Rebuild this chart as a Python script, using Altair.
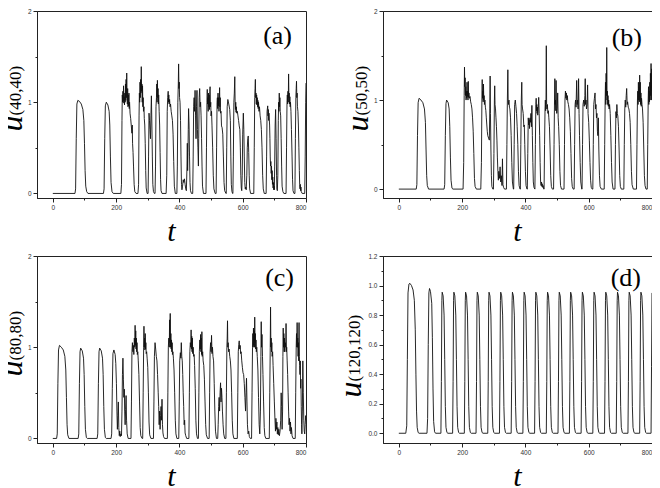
import altair as alt
import pandas as pd

# ---------------- data ----------------
X_TICKS = [0, 100, 200, 300, 400, 500, 600, 700, 800]
Y_TICKS_ABC = [0, 0.5, 1, 1.5, 2]
Y_TICKS_D = [0, 0.1, 0.2, 0.3, 0.4, 0.5, 0.6, 0.7, 0.8, 0.9, 1.0, 1.1, 1.2]

series_a = [
    (0, 0), (70, 0), (72, 0.05), (74, 0.6), (76, 0.98), (79, 1.02), (84, 1.01), (90, 0.98), (95, 0.92), (98, 0.8),
    (100, 0.55), (102, 0.25), (104, 0.08), (107, 0.02), (111, 0),
    (160, 0), (162, 0.05), (164, 0.6), (166, 0.96), (169, 1.0), (174, 0.97), (178, 0.9), (180, 0.75), (182, 0.4),
    (184, 0.12), (187, 0.02), (191, 0),
    (215, 0), (217, 0.1), (218.5, 0.8), (219.5, 1.08), (220.5, 1.0), (221.5, 1.12), (222.5, 1.01), (223.5, 1.18),
    (224.5, 0.99), (225.5, 1.06), (226.5, 0.97), (227.5, 1.1), (228.5, 1.0), (229.5, 1.2), (230.5, 1.02),
    (231.5, 1.25), (232.5, 1.05), (233.5, 1.32), (234.5, 1.08), (235.5, 0.98), (236.5, 1.15), (237.5, 0.95),
    (238.5, 1.08), (239.5, 0.96), (240.5, 1.1), (241.5, 0.93), (242.5, 1.0), (244, 0.88), (246, 0.82), (248, 0.74),
    (250, 0.66), (251, 0.75), (252, 0.55), (253.5, 0.45), (255, 0.3), (257, 0.1), (259, 0.02), (263, 0),
    (269, 0), (271, 0.1), (272.5, 0.85), (273.5, 1.1), (274.5, 1.0), (275.5, 1.22), (276.5, 1.05), (277.5, 1.25),
    (278.5, 1.1), (279.5, 1.39), (280.5, 1.12), (281.5, 1.2), (282.5, 1.0), (283.5, 1.18), (284.5, 0.95),
    (285.5, 1.05), (286.5, 0.9), (288, 0.95), (289, 0.82), (290.5, 0.75), (292, 0.55), (293.5, 0.25), (295, 0.06),
    (298, 0),
    (301, 0), (302.5, 0.4), (304, 0.88), (305.5, 0.8), (307, 0.7), (308.5, 0.6), (310, 0.85), (311.5, 1.07),
    (313, 0.75), (314.5, 0.4), (316, 0.1), (318, 0.02), (321, 0),
    (323, 0), (324.5, 0.3), (326, 0.95), (327.5, 1.05), (328.5, 1.2), (329.5, 1.0), (330.5, 1.24), (331.5, 1.05),
    (332.5, 1.15), (333.5, 0.98), (334.5, 1.08), (336, 0.9), (337.5, 0.75), (339, 0.45), (340.5, 0.15),
    (342, 0.03), (345, 0),
    (358, 0), (360, 0.2), (361.5, 0.9), (363, 1.05), (364.5, 1.12), (365.5, 1.0), (366.5, 1.08), (367.5, 0.98),
    (369, 1.03), (370.5, 0.95), (372, 0.98), (374, 0.9), (376, 0.85), (378, 0.8), (380, 0.65), (382, 0.35),
    (384, 0.08), (387, 0),
    (392, 0), (393.5, 0.3), (395, 1.0), (396.5, 1.2), (397.5, 1.42), (398.5, 1.15), (399.5, 1.22), (400.5, 1.05),
    (402, 1.0), (403.5, 0.8), (405, 0.4), (406.5, 0.1), (408, 0.04), (410, 0.08), (412, 0.15), (414, 0.12),
    (416, 0.16), (418, 0.1), (420, 0.05), (422, 0.03),
    (424, 0.3), (425, 0.55), (426, 0.25), (427, 0.45), (428, 0.7), (429, 0.93), (430.5, 0.75), (432, 0.4),
    (433.5, 0.12), (435, 0.03), (438, 0),
    (442, 0), (443.5, 0.4), (445, 0.95), (446.5, 1.05), (448, 0.9), (449.5, 1.13), (451, 0.85), (452.5, 0.6),
    (454, 0.95), (455.5, 1.13), (457, 0.7), (458.5, 0.5), (460, 0.3), (461, 0.6), (462.5, 1.05), (464, 1.15),
    (465.5, 0.95), (467, 1.0), (468.5, 0.85), (470, 0.6), (471.5, 0.3), (473, 0.08), (476, 0),
    (484, 0), (485.5, 0.5), (487, 1.0), (488, 1.14), (489, 0.98), (490, 1.05), (491, 0.9), (492, 1.1), (493, 0.95),
    (494, 1.08), (495, 0.92), (496, 1.12), (497, 1.17), (498, 0.95), (499, 1.0), (500, 0.85), (501.5, 0.9),
    (503, 0.74), (505, 0.5), (507, 0.2), (509, 0.05), (513, 0),
    (516, 0), (517.5, 0.5), (519, 1.0), (520, 1.05), (521, 0.93), (522, 1.1), (523, 0.96), (524, 1.05), (525, 0.9),
    (526, 1.0), (527, 1.16), (528, 0.95), (529, 1.05), (530, 0.88), (531.5, 0.9), (533, 0.74), (535, 0.72),
    (537, 0.65), (539, 0.4), (541, 0.12), (543, 0.03), (547, 0),
    (548, 0), (549.5, 0.5), (551, 0.95), (553, 1.03), (556, 0.98), (559, 0.92), (561, 0.8), (562.5, 0.4),
    (564, 0.1), (566, 0.02), (568, 0),
    (569, 0), (570.5, 0.4), (572, 1.0), (573.5, 1.1), (575, 1.28), (576, 1.0), (577, 0.92), (578, 1.0), (579, 0.89),
    (580, 0.95), (581, 0.88), (583, 0.9), (585, 0.85), (587, 0.8), (589, 0.74), (591, 0.7), (592.5, 0.5),
    (594, 0.2), (595.5, 0.06), (597, 0.03),
    (598.5, 0.2), (600, 0.65), (602, 0.88), (603.5, 0.7), (605, 0.4), (606.5, 0.12), (608, 0.05), (610, 0.07),
    (611, 0.04),
    (613, 0.2), (614.5, 0.5), (616, 0.6), (617.5, 0.63), (619, 0.45), (620.5, 0.2), (622, 0.05), (625, 0),
    (635, 0), (636.5, 0.5), (638, 1.05), (639, 1.15), (640, 1.25), (641, 1.05), (642, 1.1), (643, 0.98),
    (644, 1.08), (645, 0.97), (646, 1.05), (647, 0.95), (648, 1.02), (649, 0.93), (650, 1.0), (651.5, 0.9),
    (653, 0.95), (655, 0.85), (657, 0.8), (659, 0.7), (661, 0.5), (663, 0.2), (665, 0.05), (668, 0),
    (674, 0), (675.5, 0.4), (677, 0.9), (679, 0.96), (680, 0.85), (681, 0.92), (682, 0.8), (683, 0.88), (685, 0.75),
    (686, 0.6), (687, 0.4), (688, 0.3), (689, 0.35), (690, 0.22), (691, 0.3), (692, 0.15), (693, 0.25), (694, 0.1),
    (695, 0.18), (696, 0.06), (697, 0.12), (698, 0.04), (699, 0.08), (700, 0.04), (701, 0.3), (702.5, 0.75),
    (704, 0.92), (705.5, 0.6), (707, 0.2), (708, 0.05), (709.5, 0.03),
    (711, 0.2), (712.5, 0.8), (713.5, 1.0), (714.5, 0.9), (715.5, 1.1), (716.5, 0.95), (717.5, 1.05), (718.5, 0.9),
    (720, 0.85), (721.5, 0.6), (723, 0.3), (724.5, 0.08), (727, 0.02), (730, 0),
    (737, 0), (738.5, 0.5), (740, 1.0), (741, 1.08), (742, 0.98), (743, 1.12), (744, 1.0), (745, 1.31),
    (746, 1.05), (747, 1.1), (748, 0.98), (749, 1.06), (750, 0.95), (751, 1.0), (752.5, 0.9), (754, 0.7),
    (756, 0.4), (757.5, 0.15), (759, 0.03), (762, 0),
    (765, 0), (766.5, 0.6), (768, 1.05), (769, 1.15), (770, 1.23), (771, 1.05), (772, 1.1), (773, 0.95),
    (774.5, 0.9), (776, 0.75), (777.5, 0.5), (779, 0.25), (780, 0.1), (781, 0.05), (782, 0.1), (783, 0.03),
    (784, 0.07), (785, 0.02), (788, 0), (796, 0), (797.5, 0.4), (799, 1.0), (800, 1.21),
]

series_b = [
    (0, 0), (55, 0), (57, 0.05), (59, 0.6), (61, 0.97), (64, 1.02), (70, 1.0), (76, 0.97), (81, 0.9), (84, 0.75),
    (86, 0.45), (88, 0.15), (90, 0.04), (94, 0),
    (143, 0), (145, 0.05), (147, 0.6), (149, 0.96), (151, 1.0), (156, 0.97), (159, 0.9), (161, 0.7), (163, 0.35),
    (165, 0.1), (168, 0.01), (171, 0),
    (203, 0), (205, 0.3), (206.5, 1.05), (207.5, 1.37), (208.5, 1.15), (209.5, 1.25), (210.5, 1.05), (211.5, 1.15),
    (212.5, 1.0), (213.5, 1.1), (214.5, 1.02), (215.5, 1.2), (216.5, 1.04), (217.5, 1.1), (218.5, 1.0),
    (219.5, 1.21), (220.5, 1.03), (221.5, 1.08), (223, 1.02), (225, 1.04), (227, 0.98), (229, 0.95), (231, 0.9),
    (233, 0.8), (235, 0.65), (237, 0.4), (239, 0.12), (241, 0.03), (245, 0),
    (259, 0), (261, 0.3), (262.5, 1.0), (263.5, 1.23), (264.5, 1.02), (265.5, 1.1), (266.5, 0.98), (267.5, 1.18),
    (268.5, 1.0), (269.5, 1.05), (270.5, 0.95), (272, 1.0), (273.5, 0.92), (275, 0.88), (276.5, 0.8), (278, 0.72),
    (279.5, 0.65), (281, 0.6), (286, 0.55), (287.5, 0.9), (288.5, 1.27), (289.5, 0.85), (291, 0.45), (292.5, 0.15),
    (294, 0.03), (297, 0),
    (299, 0), (300.5, 0.4), (302, 1.0), (303, 1.16), (304, 0.95), (305.5, 0.9), (307, 0.8), (308.5, 0.7),
    (310, 0.55), (311.5, 0.35), (313, 0.2), (314.5, 0.1), (316, 0.2), (318, 0.12), (320, 0.25), (322, 0.08),
    (324, 0.15), (326, 0.04), (327.5, 0.34), (329, 0.05), (331, 0.02), (334, 0),
    (340, 0), (341.5, 0.5), (343, 1.0), (344.5, 1.34), (345.5, 1.0), (346.5, 0.95), (348, 1.0), (349.5, 0.92),
    (351, 0.9), (353, 0.8), (355, 0.6), (357, 0.3), (359, 0.08), (362, 0),
    (363, 0), (364.5, 0.5), (366, 0.95), (368, 1.0), (370, 0.93), (372, 0.85), (374, 0.7), (376, 0.5), (378, 0.2),
    (380, 0.04), (383, 0),
    (384, 0), (385.5, 0.5), (387, 1.0), (388.5, 1.2), (389.5, 0.95), (391, 0.9), (393, 0.85), (395, 0.7),
    (396.5, 0.72), (398, 0.5), (400, 0.2), (402, 0.04), (405, 0),
    (406, 0), (407.5, 0.4), (409, 0.8), (410.5, 0.72), (412, 0.78), (413, 0.68), (414.5, 0.8), (416, 0.75),
    (417.5, 0.85), (419, 0.7), (420.5, 0.94), (422, 0.6), (423.5, 0.3), (425, 0.08), (427, 0.02), (430, 0),
    (431.5, 0.5), (433, 0.95), (434, 1.02), (435, 0.88), (436, 0.95), (437, 0.85), (438, 0.92), (439, 0.83),
    (440.5, 0.9), (442, 1.03), (443.5, 0.85), (445, 0.6), (446.5, 0.3), (448, 0.08), (449.5, 0.04), (451, 0.08),
    (452, 0.03), (453, 0.06), (454, 0.02), (456, 0.04), (458, 0),
    (459, 0), (460.5, 0.5), (462, 0.9), (463, 1.0), (464, 0.88), (465, 0.95), (466, 1.61), (467, 0.95), (468, 0.9),
    (469.5, 0.95), (471, 0.85), (472.5, 0.88), (474, 0.8), (476, 0.7), (478, 0.45), (480, 0.15), (482, 0.03),
    (485, 0),
    (489, 0), (490.5, 0.5), (492, 1.0), (493, 1.24), (494, 0.95), (495, 1.0), (496, 0.88), (497, 1.22), (498, 0.9),
    (499, 0.85), (500.5, 0.9), (502, 1.08), (503.5, 0.8), (505, 0.7), (507, 0.5), (509, 0.2), (511, 0.04), (514, 0),
    (522, 0), (523.5, 0.5), (525, 1.0), (526.5, 1.1), (528, 1.02), (529.5, 1.08), (531, 1.0), (532.5, 1.05),
    (534, 0.98), (536, 0.95), (538, 0.9), (540, 0.8), (542, 0.65), (544, 0.4), (546, 0.12), (548, 0.03), (551, 0),
    (554, 0), (555.5, 0.5), (557, 0.95), (558.5, 1.0), (560, 0.92), (562, 1.22), (563.5, 0.95), (565, 1.0),
    (566.5, 0.9), (568, 1.24), (569.5, 0.85), (571, 0.6), (573, 0.3), (575, 0.08), (578, 0),
    (579, 0), (580.5, 0.5), (582, 0.95), (584, 1.0), (586, 0.93), (588, 1.05), (589, 1.24), (590, 0.95),
    (591.5, 1.0), (593, 0.9), (595, 0.95), (596.5, 1.17), (598, 0.85), (600, 0.75), (602, 0.55), (604, 0.3),
    (606, 0.1), (608, 0.02), (611, 0),
    (613, 0), (614.5, 0.5), (616, 0.95), (618, 1.02), (620, 1.08), (621.5, 0.9), (623, 0.95), (624.5, 0.8),
    (626, 0.85), (627.5, 0.65), (629, 0.6), (630.5, 0.8), (632, 0.45), (634, 0.15), (636, 0.03), (640, 0),
    (649, 0), (650.5, 0.5), (652, 1.0), (653, 1.2), (654, 0.95), (655, 1.3), (656, 1.05), (657, 1.59), (658, 1.0),
    (659, 1.1), (660, 0.95), (661, 1.05), (662, 0.93), (663, 1.0), (664.5, 0.9), (666, 0.95), (668, 0.85),
    (670, 0.6), (672, 0.3), (674, 0.08), (677, 0),
    (683, 0), (684.5, 0.5), (686, 0.87), (687.5, 0.8), (689, 0.95), (690.5, 0.85), (692, 0.82), (694, 0.7),
    (696, 0.45), (698, 0.15), (700, 0.03), (703, 0),
    (711, 0), (712.5, 0.5), (714, 0.9), (715.5, 1.0), (717, 0.92), (718.5, 1.05), (720, 1.13), (721.5, 0.95),
    (723, 0.98), (725, 0.92), (727, 0.9), (729, 0.85), (731, 0.75), (733, 0.5), (735, 0.2), (737, 0.05), (741, 0),
    (751, 0), (752.5, 0.5), (754, 1.0), (755, 1.1), (756, 0.95), (757, 1.2), (758, 1.0), (759, 1.15), (760, 0.98),
    (761, 1.28), (762, 1.0), (763, 1.2), (764, 0.95), (765, 1.08), (766, 0.93), (767, 1.02), (768.5, 0.95),
    (770, 0.9), (772, 0.75), (774, 0.45), (776, 0.15), (778, 0.04), (781, 0),
    (785, 0), (786.5, 0.5), (788, 1.0), (789, 1.15), (790, 0.95), (791, 1.1), (792, 0.98), (793, 1.2), (794, 1.0),
    (795, 1.3), (796, 1.05), (797, 1.41), (798, 1.0), (799, 1.35), (800, 1.1),
]

series_c = [
    (0, 0), (12, 0), (14, 0.05), (16, 0.6), (18, 0.97), (21, 1.02), (27, 1.0), (33, 0.97), (38, 0.9), (41, 0.75),
    (43, 0.45), (45, 0.15), (47, 0.04), (51, 0),
    (80, 0), (82, 0.05), (84, 0.6), (86, 0.95), (88, 0.99), (93, 0.96), (97, 0.88), (99, 0.7), (101, 0.35),
    (103, 0.1), (106, 0.01), (109, 0),
    (140, 0), (142, 0.05), (144, 0.6), (146, 0.95), (148, 0.99), (153, 0.96), (157, 0.88), (159, 0.7), (161, 0.35),
    (163, 0.1), (166, 0.01), (169, 0),
    (184, 0), (186, 0.05), (188, 0.55), (190, 0.93), (193, 0.97), (197, 0.92), (199, 0.82), (201, 0.6), (202.5, 0.3),
    (204, 0.1), (205.5, 0.25), (207, 0.4), (208.5, 0.12), (210, 0.03), (211.5, 0.08), (213, 0.02), (215, 0.05),
    (217, 0.03),
    (218.5, 0.3), (220, 0.7), (221.5, 0.88), (223, 0.65), (224.5, 0.45), (226, 0.54), (227, 0.3), (228.5, 0.15),
    (230, 0.32), (231.5, 0.47), (233, 0.2), (235, 0.05), (238, 0),
    (247, 0), (248.5, 0.4), (250, 0.95), (251.5, 1.05), (253, 0.95), (254.5, 1.02), (256, 0.92), (257.5, 1.1),
    (259, 1.0), (260, 1.24), (261, 1.02), (262, 1.18), (263, 0.98), (264, 1.1), (265, 0.95), (266, 1.05),
    (267, 0.92), (268.5, 0.95), (270, 0.85), (272, 0.7), (274, 0.4), (276, 0.12), (278, 0.03), (282, 0),
    (284, 0), (285.5, 0.5), (287, 1.0), (288, 1.23), (289, 1.0), (290, 1.1), (291, 0.97), (292, 1.15), (293, 0.98),
    (294, 1.05), (295, 0.93), (296.5, 0.95), (298, 0.88), (300, 0.78), (302, 0.5), (304, 0.18), (306, 0.04),
    (310, 0),
    (318, 0), (319.5, 0.4), (321, 0.9), (323, 1.05), (325, 0.98), (327, 0.9), (329, 0.85), (331, 0.7), (333, 0.5),
    (334.5, 0.35), (336, 0.15), (337.5, 0.3), (339, 0.1), (340.5, 0.25), (342, 0.35), (343.5, 0.2), (345, 0.43),
    (346.5, 0.15), (348, 0.06), (350, 0.02), (353, 0),
    (362, 0), (363.5, 0.5), (365, 1.0), (366.5, 1.1), (368, 1.0), (369, 1.3), (370, 1.05), (371, 1.37), (372, 1.0),
    (373, 1.15), (374, 0.98), (375, 1.08), (376, 0.95), (377, 1.05), (378, 0.92), (379.5, 0.95), (381, 0.88),
    (383, 0.75), (385, 0.5), (387, 0.2), (389, 0.05), (392, 0),
    (398, 0), (399.5, 0.4), (401, 0.85), (403, 0.94), (404.5, 0.88), (406, 1.05), (407.5, 0.9), (409, 0.85),
    (410.5, 0.7), (412, 0.5), (413.5, 0.35), (415, 0.15), (416.5, 0.2), (418, 0.06), (420, 0.03), (423, 0),
    (430, 0), (431.5, 0.5), (433, 0.95), (434.5, 1.05), (436, 1.0), (437, 1.19), (438, 0.98), (439, 1.12),
    (440, 0.95), (441, 1.1), (442, 0.93), (443.5, 1.0), (445, 0.9), (446.5, 0.92), (448, 0.8), (450, 0.55),
    (452, 0.2), (454, 0.05), (457, 0),
    (460, 0), (461.5, 0.5), (463, 0.95), (464.5, 1.08), (466, 0.98), (467, 1.14), (468, 0.95), (469, 1.1),
    (470, 0.92), (471, 1.17), (472, 0.9), (473.5, 0.95), (475, 0.85), (477, 0.8), (479, 0.65), (481, 0.4),
    (483, 0.15), (485, 0.04), (489, 0),
    (494, 0), (495.5, 0.5), (497, 0.95), (498.5, 1.05), (500, 0.95), (501.5, 1.13), (503, 0.93), (504.5, 1.0),
    (506, 0.9), (508, 0.85), (510, 0.6), (512, 0.3), (514, 0.08), (517, 0),
    (521, 0), (522.5, 0.15), (524, 0.35), (525.5, 0.45), (527, 0.3), (528.5, 0.5), (530, 0.61), (531.5, 0.4),
    (533, 0.55), (534.5, 0.45), (536, 0.3), (538, 0.15), (540, 0.05), (543, 0),
    (547, 0), (548.5, 0.5), (550, 1.0), (551, 1.1), (552, 1.29), (553, 1.0), (554, 1.05), (555.5, 0.95),
    (557, 0.98), (559, 0.9), (561, 0.85), (563, 0.75), (565, 0.5), (567, 0.2), (569, 0.05), (572, 0),
    (583, 0), (584.5, 0.5), (586, 0.95), (587.5, 1.03), (589, 1.07), (590.5, 0.98), (592, 1.02), (593.5, 0.93),
    (595, 0.95), (597, 0.85), (599, 0.78), (601, 0.72), (603, 0.7), (605, 0.6), (607, 0.45), (609, 0.3),
    (610.5, 0.5), (612, 0.66), (613.5, 0.4), (615, 0.15), (617, 0.05), (619, 0.08), (621, 0.02), (624, 0),
    (628, 0), (629.5, 0.5), (631, 1.0), (632, 1.15), (633, 1.0), (634, 1.21), (635, 1.02), (636, 1.18), (637, 1.0),
    (638, 1.33), (639, 1.05), (640, 1.15), (641, 0.98), (642, 1.08), (643, 0.95), (644.5, 1.0), (646, 0.9),
    (648, 0.75), (650, 0.45), (652, 0.15), (654, 0.05), (656, 0.3), (657.5, 0.9), (658.5, 1.28), (659.5, 1.0),
    (661, 1.14), (662.5, 0.9), (664, 0.7), (666, 0.4), (668, 0.12), (670, 0.03), (673, 0),
    (684, 0), (685.5, 0.5), (687, 1.0), (688, 1.44), (689, 1.0), (690, 1.1), (691, 0.95), (692, 1.05), (693, 0.9),
    (694.5, 0.95), (696, 0.8), (698, 0.6), (700, 0.4), (702, 0.2), (703.5, 0.08), (705, 0.22), (706.5, 0.1),
    (708, 0.18), (709.5, 0.05), (711, 0.12), (712.5, 0.04), (714, 0.1), (716, 0.03), (718, 0.08), (720, 0.2),
    (721.5, 0.5), (723, 0.35), (724.5, 0.1),
    (726, 0.3), (727, 0.9), (728, 1.21), (729, 1.0), (730, 1.15), (731, 0.95), (732, 1.1), (733, 0.95),
    (734.5, 1.05), (736, 1.0), (737, 1.26), (738, 0.95), (739, 1.0), (740.5, 0.85), (742, 0.7), (743.5, 0.5),
    (745, 0.3), (746.5, 0.15), (748, 0.22), (749.5, 0.08), (751, 0.18), (752.5, 0.05), (754, 0.12), (756, 0.03),
    (759, 0), (766, 0),
    (767.5, 0.5), (769, 1.0), (770, 1.15), (771, 1.0), (772, 1.27), (773, 1.0), (774, 1.1), (775, 0.9),
    (776, 1.05), (777, 0.85), (778, 1.27), (779, 0.9), (780, 0.8), (781, 0.7), (782, 0.85), (783, 0.55),
    (784, 0.65), (785, 0.35), (786, 0.15), (787, 0.05), (788.5, 0.3), (790, 0.85), (791.5, 0.5), (793, 0.2),
    (794.5, 0.08), (796, 0.05), (797.5, 0.15), (799, 0.25), (800, 0.2),
]

series_d = [
    (0, 0), (22, 0), (25, 0.05), (27, 0.5), (29, 0.95), (32, 1.01), (35, 1.015), (40, 1.0), (45, 0.97), (49, 0.9),
    (52, 0.7), (54, 0.4), (56, 0.15), (58, 0.04), (61, 0.005), (64, 0),
    (89, 0), (91, 0.1), (93, 0.6), (95, 0.95), (97, 0.98), (100, 0.96), (104, 0.88), (106, 0.65), (108, 0.3),
    (110, 0.08), (113, 0.01), (116, 0),
    (133, 0), (134.5, 0.35), (136, 0.9), (137, 0.955), (140, 0.93), (143, 0.8), (145, 0.5), (147, 0.18), (149, 0.04), (152, 0.005), (155, 0),
    (170, 0), (171.5, 0.35), (173, 0.9), (174, 0.955), (177, 0.93), (180, 0.8), (182, 0.5), (184, 0.18), (186, 0.04), (189, 0.005), (192, 0),
    (207, 0), (208.5, 0.35), (210, 0.9), (211, 0.955), (214, 0.93), (217, 0.8), (219, 0.5), (221, 0.18), (223, 0.04), (226, 0.005), (229, 0),
    (244, 0), (245.5, 0.35), (247, 0.9), (248, 0.955), (251, 0.93), (254, 0.8), (256, 0.5), (258, 0.18), (260, 0.04), (263, 0.005), (266, 0),
    (281, 0), (282.5, 0.35), (284, 0.9), (285, 0.955), (288, 0.93), (291, 0.8), (293, 0.5), (295, 0.18), (297, 0.04), (300, 0.005), (303, 0),
    (318, 0), (319.5, 0.35), (321, 0.9), (322, 0.955), (325, 0.93), (328, 0.8), (330, 0.5), (332, 0.18), (334, 0.04), (337, 0.005), (340, 0),
    (355, 0), (356.5, 0.35), (358, 0.9), (359, 0.955), (362, 0.93), (365, 0.8), (367, 0.5), (369, 0.18), (371, 0.04), (374, 0.005), (377, 0),
    (392, 0), (393.5, 0.35), (395, 0.9), (396, 0.955), (399, 0.93), (402, 0.8), (404, 0.5), (406, 0.18), (408, 0.04), (411, 0.005), (414, 0),
    (429, 0), (430.5, 0.35), (432, 0.9), (433, 0.955), (436, 0.93), (439, 0.8), (441, 0.5), (443, 0.18), (445, 0.04), (448, 0.005), (451, 0),
    (466, 0), (467.5, 0.35), (469, 0.9), (470, 0.955), (473, 0.93), (476, 0.8), (478, 0.5), (480, 0.18), (482, 0.04), (485, 0.005), (488, 0),
    (503, 0), (504.5, 0.35), (506, 0.9), (507, 0.955), (510, 0.93), (513, 0.8), (515, 0.5), (517, 0.18), (519, 0.04), (522, 0.005), (525, 0),
    (539, 0), (540.5, 0.35), (542, 0.9), (543, 0.955), (546, 0.93), (549, 0.8), (551, 0.5), (553, 0.18), (555, 0.04), (558, 0.005), (561, 0),
    (576, 0), (577.5, 0.35), (579, 0.9), (580, 0.955), (583, 0.93), (586, 0.8), (588, 0.5), (590, 0.18), (592, 0.04), (595, 0.005), (598, 0),
    (613, 0), (614.5, 0.35), (616, 0.9), (617, 0.955), (620, 0.93), (623, 0.8), (625, 0.5), (627, 0.18), (629, 0.04), (632, 0.005), (635, 0),
    (650, 0), (651.5, 0.35), (653, 0.9), (654, 0.955), (657, 0.93), (660, 0.8), (662, 0.5), (664, 0.18), (666, 0.04), (669, 0.005), (672, 0),
    (687, 0), (688.5, 0.35), (690, 0.9), (691, 0.955), (694, 0.93), (697, 0.8), (699, 0.5), (701, 0.18), (703, 0.04), (706, 0.005), (709, 0),
    (724, 0), (725.5, 0.35), (727, 0.9), (728, 0.955), (731, 0.93), (734, 0.8), (736, 0.5), (738, 0.18), (740, 0.04), (743, 0.005), (746, 0),
    (761, 0), (762.5, 0.35), (764, 0.9), (765, 0.955), (768, 0.93), (771, 0.8), (773, 0.5), (775, 0.18), (777, 0.04), (780, 0.005), (783, 0),
    (797, 0), (798.5, 0.45), (800, 0.95),
]

PANEL_LABELS = ["(a)", "(b)", "(c)", "(d)"]
Y_NAMES = ["(40,40)", "(50,50)", "(80,80)", "(120,120)"]

# ---------------- styling ----------------
W, H = 269, 187
SERIF = "Liberation Serif"
SANS = "Liberation Sans"


def panel(pairs, ydom, yticks, ylab_expr, ytick_minor, label, label_right, label_y, name, title_x, junction):
    df = pd.DataFrame(pairs, columns=["t", "u"])
    one = alt.Data(values=[{}])
    xaxis = alt.Axis(values=X_TICKS, title=None, grid=False,
                     labelExpr="datum.value % 200 === 0 ? format(datum.value, 'd') : ''",
                     tickSize={"condition": {"test": "datum.value % 200 !== 0", "value": 2}, "value": 4})
    yaxis = alt.Axis(values=yticks, title=None, grid=False, labelExpr=ylab_expr,
                     tickSize={"condition": {"test": ytick_minor, "value": 2}, "value": 4})
    line = alt.Chart(df).mark_line(color="#111", strokeWidth=0.9, clip=True).encode(
        x=alt.X("t:Q", scale=alt.Scale(domain=[-50, 800], nice=False, zero=False), axis=xaxis),
        y=alt.Y("u:Q", scale=alt.Scale(domain=ydom, nice=False, zero=False), axis=yaxis),
        order="t:Q",
    )
    lab = alt.Chart(one).mark_text(text=label, font=SERIF, fontSize=26, align="right",
                                   baseline="middle", color="#000").encode(
        x=alt.value(W - label_right), y=alt.value(label_y))
    u_txt = alt.Chart(one).mark_text(text="u", font=SERIF, fontStyle="italic", fontSize=32, angle=270,
                                     align="right", baseline="alphabetic", color="#000").encode(
        x=alt.value(title_x), y=alt.value(H / 2 + junction))
    n_txt = alt.Chart(one).mark_text(text=name, font=SERIF, fontSize=17, angle=270,
                                     align="left", baseline="alphabetic", color="#000").encode(
        x=alt.value(title_x - 1), y=alt.value(H / 2 + junction))
    t_txt = alt.Chart(one).mark_text(text="t", font=SERIF, fontStyle="italic", fontSize=30,
                                     align="center", baseline="alphabetic", color="#000").encode(
        x=alt.value(W / 2), y=alt.value(H + 43))
    return alt.layer(line, lab, u_txt, n_txt, t_txt).properties(width=W, height=H)


int_lab = "datum.value % 1 === 0 ? format(datum.value, 'd') : ''"
int_minor = "datum.value % 1 !== 0"
d_lab = "round(datum.value * 10) % 2 === 0 ? format(datum.value, '.1f') : ''"
d_minor = "round(datum.value * 10) % 2 !== 0"

pa = panel(series_a, [-0.05, 2], Y_TICKS_ABC, int_lab, int_minor, PANEL_LABELS[0], 14, 25, Y_NAMES[0], -15, 11)
pb = panel(series_b, [-0.1, 2], Y_TICKS_ABC, int_lab, int_minor, PANEL_LABELS[1], 10, 27, Y_NAMES[1], -15, 11)
pc = panel(series_c, [-0.05, 2], Y_TICKS_ABC, int_lab, int_minor, PANEL_LABELS[2], 12, 22, Y_NAMES[2], -15, 11)
pd_ = panel(series_d, [-0.066, 1.2], Y_TICKS_D, d_lab, d_minor, PANEL_LABELS[3], 11, 22, Y_NAMES[3], -22, 32)

chart = alt.ConcatChart(
    concat=[pa, pb, pc, pd_], columns=2, spacing={"row": 58, "column": 77}, bounds="flush"
).properties(
    autosize=alt.AutoSizeParams(type="none"),
    padding={"left": 29, "top": 3, "right": 615, "bottom": 477},
).configure_view(
    stroke="#222", strokeWidth=1
).configure_axis(
    domainColor="#222", tickColor="#222", labelColor="#333", labelFont=SANS, labelFontSize=6.5,
    labelPadding=2, tickWidth=1, domainWidth=1,
)

chart.save("out.html", embed_options={"renderer": "svg", "actions": False})
